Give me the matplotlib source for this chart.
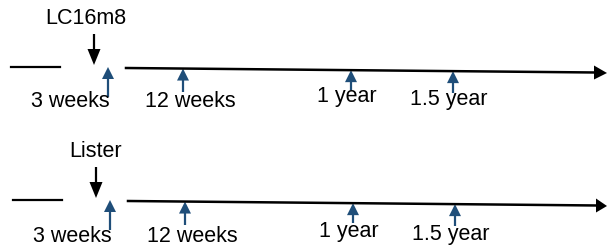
import matplotlib.pyplot as plt
from matplotlib.patches import Polygon

# panels (vaccine strain) and time points of sampling
strains = ["LC16m8", "Lister"]
timepoints = ["3 weeks", "12 weeks", "1 year", "1.5 year"]
timepoint_x = [108, 183, 351, 453]      # where the blue arrows sit on the timeline
label_x = [70, 190, 347, 449]           # centre of the time labels
label_base = [107, 107, 102, 105]       # baseline of the time labels
stem_end = [97, 92, 90, 93]             # bottom of the blue arrow stems

panel_dx = [0, 2]
panel_dy = [0, 133]

BLUE = "#1F4E79"
FS = 15.5

fig = plt.figure(figsize=(6.08, 2.47), dpi=100)
ax = fig.add_axes([0, 0, 1, 1])
ax.set_xlim(0, 608)
ax.set_ylim(247, 0)
ax.axis("off")


def up_arrow(x, ytop, ybot):
    ax.plot([x, x], [ytop + 10, ybot], color=BLUE, lw=1.6, solid_capstyle="butt")
    ax.add_patch(Polygon([[x - 6, ytop + 12], [x + 6, ytop + 12], [x, ytop]],
                         closed=True, color=BLUE, lw=0))


def down_arrow(x, ytop, ytip):
    ax.plot([x, x], [ytop, ytip - 14], color="black", lw=1.6, solid_capstyle="butt")
    ax.add_patch(Polygon([[x - 6.5, ytip - 16], [x + 6.5, ytip - 16], [x, ytip]],
                         closed=True, color="black", lw=0))


for name, dx, dy in zip(strains, panel_dx, panel_dy):
    ax.text(86 + dx + (8 if name == "Lister" else 0), 24 + dy, name, fontsize=FS,
            family="Liberation Sans", ha="center", va="baseline")
    down_arrow(94 + dx, 34 + dy, 65 + dy)

    # broken start and the long timeline
    ax.plot([11 + dx, 60 + dx], [67 + dy, 67 + dy], color="black", lw=1.6)
    x0, y0, x1, y1 = 126 + dx, 68 + dy, 596 + dx, 72.5 + dy
    ax.plot([x0, x1], [y0, y1], color="black", lw=1.8)
    ax.add_patch(Polygon([[x1 - 2, y1 - 7], [x1 - 2, y1 + 7], [607, y1 + 0.5]],
                         closed=True, color="black", lw=0))

    for tx, lx, lb, se, lab in zip(timepoint_x, label_x, label_base, stem_end, timepoints):
        xx = tx + dx
        ytop = y0 + (y1 - y0) * (xx - x0) / (x1 - x0) if xx > x0 else 67 + dy
        up_arrow(xx, ytop, se + dy)
        ax.text(lx + dx, lb + dy + (2 if dy else 0), lab, fontsize=FS,
                family="Liberation Sans", ha="center", va="baseline")

fig.savefig("out.png", dpi=100)
